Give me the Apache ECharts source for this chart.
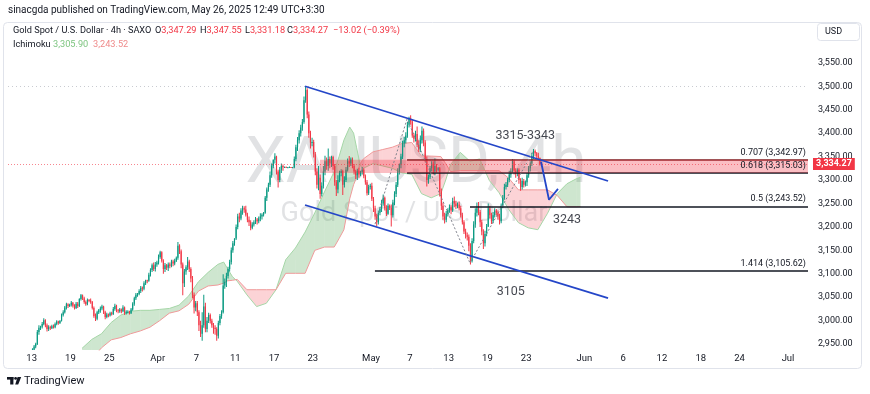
<!DOCTYPE html>
<html><head><meta charset="utf-8">
<script src="https://cdn.jsdelivr.net/npm/echarts@6/dist/echarts.min.js"></script>
<style>html,body{margin:0;padding:0;background:#fff}#c{width:870px;height:394px}</style>
</head><body><div id="c"></div>
<script>
// ---- 4h candles [open, close, low, high], 6 per trading day, starting Mar 13 ----
const candles = [
// Mar 13
[2934,2938,2931,2941],[2938,2945,2935,2948],[2945,2950,2941,2953],[2950,2976,2948,2980],[2976,2985,2970,2990],[2985,2987,2980,2989],
// Mar 14
[2987,2993,2983,2997],[2993,3001,2990,3005],[3001,2990,2986,3003],[2990,2982,2977,2994],[2982,2986,2978,2990],[2986,2984,2980,2989],
// Mar 17
[2984,2988,2982,2991],[2988,2986,2983,2992],[2986,2993,2984,2996],[2993,2998,2990,3001],[2998,2995,2991,3000],[2995,3000,2993,3001],
// Mar 18
[3000,3012,2998,3015],[3012,3018,3009,3022],[3018,3028,3015,3031],[3028,3035,3024,3038],[3035,3031,3027,3037],[3031,3034,3029,3036],
// Mar 19
[3034,3038,3030,3042],[3038,3032,3028,3040],[3032,3027,3024,3035],[3027,3036,3025,3040],[3036,3031,3027,3040],[3031,3046,3029,3048],
// Mar 20
[3046,3054,3043,3057],[3054,3048,3044,3056],[3048,3040,3036,3051],[3040,3035,3032,3043],[3035,3044,3033,3047],[3044,3043,3039,3046],
// Mar 21
[3043,3040,3036,3047],[3040,3027,3024,3042],[3027,3010,3006,3030],[3010,3004,2999,3015],[3004,3018,3001,3021],[3018,3022,3014,3025],
// Mar 24
[3022,3026,3017,3030],[3026,3030,3022,3034],[3030,3018,3014,3032],[3018,3008,3003,3021],[3008,3013,3005,3017],[3013,3011,3007,3015],
// Mar 25
[3011,3016,3009,3019],[3016,3014,3011,3019],[3014,3025,3012,3029],[3025,3032,3021,3036],[3032,3022,3018,3034],[3022,3020,3016,3025],
// Mar 26
[3020,3024,3017,3027],[3024,3020,3016,3026],[3020,3028,3018,3033],[3028,3016,3012,3030],[3016,3019,3013,3022],[3019,3019,3015,3022],
// Mar 27
[3019,3016,3013,3021],[3016,3024,3014,3027],[3024,3036,3021,3039],[3036,3048,3032,3051],[3048,3055,3044,3059],[3055,3057,3051,3059],
// Mar 28
[3057,3063,3054,3067],[3063,3070,3059,3074],[3070,3068,3062,3073],[3068,3080,3065,3084],[3080,3086,3076,3087],[3086,3085,3080,3087],
// Mar 31
[3085,3098,3083,3102],[3098,3108,3094,3112],[3108,3118,3104,3122],[3118,3110,3106,3124],[3110,3120,3105,3125],[3120,3124,3115,3128],
// Apr 1
[3124,3136,3120,3141],[3136,3146,3132,3149],[3146,3128,3124,3148],[3128,3110,3100,3131],[3110,3118,3104,3123],[3118,3113,3108,3121],
// Apr 2
[3113,3120,3106,3124],[3120,3117,3112,3124],[3117,3126,3114,3130],[3126,3122,3116,3130],[3122,3128,3118,3132],[3128,3134,3125,3137],
// Apr 3
[3134,3160,3130,3168],[3160,3148,3142,3163],[3148,3120,3112,3152],[3120,3080,3054,3124],[3080,3105,3072,3110],[3105,3114,3098,3118],
// Apr 4
[3114,3126,3108,3136],[3126,3110,3104,3130],[3110,3090,3082,3114],[3090,3055,3048,3095],[3055,3028,3015,3060],[3028,3037,3020,3042],
// Apr 7
[3037,3018,3010,3042],[3018,2990,2978,3022],[2990,2972,2965,3000],[2972,2990,2957,3018],[2990,3030,2985,3055],[3030,2982,2975,3038],
// Apr 8
[2982,3000,2975,3008],[3000,3012,2995,3017],[3012,3000,2994,3015],[3000,2990,2985,3004],[2990,2985,2972,2995],[2985,2982,2970,2990],
// Apr 9
[2982,2968,2957,2986],[2968,2995,2962,3000],[2995,3010,2990,3014],[3010,3018,3004,3022],[3018,3075,3015,3099],[3075,3083,3068,3090],
// Apr 10
[3083,3095,3072,3102],[3095,3110,3090,3115],[3110,3125,3105,3130],[3125,3150,3120,3156],[3150,3165,3145,3170],[3165,3175,3160,3176],
// Apr 11
[3175,3200,3172,3205],[3200,3222,3195,3228],[3222,3218,3210,3230],[3218,3235,3214,3240],[3235,3240,3226,3245],[3240,3237,3230,3244],
// Apr 14
[3237,3226,3222,3245],[3226,3215,3210,3230],[3215,3210,3202,3222],[3210,3198,3193,3214],[3198,3205,3195,3210],[3205,3210,3201,3214],
// Apr 15
[3210,3216,3206,3221],[3216,3212,3205,3219],[3212,3218,3208,3222],[3218,3222,3212,3229],[3222,3226,3216,3229],[3226,3230,3222,3232],
// Apr 16
[3230,3262,3228,3266],[3262,3280,3255,3284],[3280,3290,3275,3294],[3290,3310,3285,3318],[3310,3330,3305,3335],[3330,3343,3325,3344],
// Apr 17
[3343,3350,3335,3357],[3350,3318,3312,3352],[3318,3300,3284,3322],[3300,3322,3295,3328],[3322,3330,3315,3335],[3330,3327,3320,3333],
// Apr 18
[3327,3328,3326,3329],[3328,3327,3326,3329],[3327,3327,3326,3328],[3327,3328,3326,3329],[3328,3327,3326,3328],[3327,3327,3326,3328],
// Apr 21
[3327,3345,3325,3350],[3345,3370,3340,3375],[3370,3385,3362,3392],[3385,3400,3378,3406],[3400,3412,3393,3418],[3412,3424,3405,3430],
// Apr 22
[3424,3470,3420,3478],[3470,3492,3465,3500],[3492,3440,3432,3496],[3440,3400,3390,3446],[3400,3380,3367,3405],[3380,3381,3372,3390],
// Apr 23
[3381,3355,3348,3386],[3355,3318,3310,3360],[3318,3290,3282,3325],[3290,3305,3278,3330],[3305,3270,3260,3312],[3270,3288,3265,3295],
// Apr 24
[3288,3318,3282,3330],[3318,3340,3310,3352],[3340,3330,3322,3348],[3330,3345,3320,3367],[3345,3335,3325,3350],[3335,3349,3328,3352],
// Apr 25
[3349,3330,3322,3352],[3330,3295,3288,3334],[3295,3280,3266,3300],[3280,3300,3272,3310],[3300,3315,3295,3320],[3315,3319,3308,3323],
// Apr 28
[3319,3290,3268,3322],[3290,3300,3284,3308],[3300,3322,3296,3328],[3322,3340,3318,3346],[3340,3335,3328,3351],[3335,3344,3330,3348],
// Apr 29
[3344,3330,3325,3348],[3330,3318,3312,3334],[3318,3310,3302,3322],[3310,3320,3300,3324],[3320,3312,3305,3326],[3312,3317,3308,3320],
// Apr 30
[3317,3322,3312,3328],[3322,3308,3304,3325],[3308,3295,3290,3312],[3295,3272,3267,3300],[3272,3285,3268,3290],[3285,3288,3280,3292],
// May 1
[3288,3260,3255,3294],[3260,3240,3232,3264],[3240,3222,3215,3245],[3222,3210,3202,3228],[3210,3230,3205,3235],[3230,3238,3225,3242],
// May 2
[3238,3250,3232,3258],[3250,3262,3245,3269],[3262,3240,3235,3265],[3240,3228,3223,3246],[3228,3245,3226,3250],[3245,3241,3236,3248],
// May 5
[3241,3225,3201,3248],[3225,3252,3220,3258],[3252,3270,3246,3276],[3270,3290,3264,3296],[3290,3318,3285,3325],[3318,3333,3312,3335],
// May 6
[3333,3350,3325,3356],[3350,3378,3345,3384],[3378,3385,3370,3392],[3385,3395,3378,3402],[3395,3418,3390,3424],[3418,3431,3412,3435],
// May 7
[3431,3425,3418,3438],[3425,3395,3390,3430],[3395,3388,3380,3400],[3388,3398,3382,3405],[3398,3375,3370,3414],[3375,3365,3360,3385],
// May 8
[3365,3385,3360,3395],[3385,3405,3378,3414],[3405,3380,3372,3410],[3380,3345,3338,3385],[3345,3300,3286,3350],[3300,3306,3292,3312],
// May 9
[3306,3325,3302,3330],[3325,3335,3318,3340],[3335,3318,3312,3340],[3318,3330,3310,3346],[3330,3322,3316,3334],[3322,3325,3318,3328],
// May 12
[3325,3275,3265,3328],[3275,3245,3236,3282],[3245,3222,3215,3252],[3222,3215,3207,3230],[3215,3228,3210,3234],[3228,3236,3222,3240],
// May 13
[3236,3242,3230,3248],[3242,3235,3227,3246],[3235,3255,3232,3262],[3255,3250,3242,3265],[3250,3244,3238,3256],[3244,3248,3240,3252],
// May 14
[3248,3240,3235,3254],[3240,3225,3220,3245],[3225,3210,3205,3230],[3210,3190,3185,3214],[3190,3182,3175,3196],[3182,3179,3171,3188],
// May 15
[3179,3160,3148,3184],[3160,3128,3120,3165],[3128,3170,3124,3176],[3170,3205,3165,3212],[3205,3230,3198,3240],[3230,3240,3222,3252],
// May 16
[3240,3232,3225,3253],[3232,3210,3200,3236],[3210,3190,3182,3215],[3190,3165,3153,3195],[3165,3185,3158,3192],[3185,3201,3180,3206],
// May 19
[3201,3240,3200,3250],[3240,3225,3218,3245],[3225,3212,3206,3230],[3212,3225,3208,3232],[3225,3235,3220,3240],[3235,3230,3225,3238],
// May 20
[3230,3222,3215,3235],[3222,3212,3205,3228],[3212,3245,3208,3250],[3245,3262,3240,3268],[3262,3285,3258,3292],[3285,3290,3280,3296],
// May 21
[3290,3300,3285,3305],[3300,3312,3295,3320],[3312,3320,3305,3325],[3320,3340,3315,3345],[3340,3320,3312,3344],[3320,3314,3305,3325],
// May 22
[3314,3322,3308,3325],[3322,3300,3292,3325],[3300,3285,3277,3304],[3285,3298,3280,3305],[3298,3290,3284,3302],[3290,3295,3286,3299],
// May 23
[3295,3310,3287,3315],[3310,3325,3305,3330],[3325,3335,3318,3340],[3335,3352,3330,3358],[3352,3362,3345,3366],[3362,3357,3350,3365],
// May 26
[3357,3352,3346,3360],[3352,3347.29,3342,3358],[3347.29,3334.27,3331.18,3347.55]
];

// ---- Ichimoku cloud (trading-day position, leading span A, leading span B) ----
const cloudX = [5.2,6.2,7.2,8.2,9.2,10.2,11.2,12.2,13.2,14.2,15.2,16.2,17.2,18.2,19.2,19.8,20.2,20.7,21.2,22.2,23.2,24.2,25.2,26.2,27.2,28.2,29.2,30.2,31.2,31.7,32.2,32.8,33.2,33.5,33.9,34.2,35.2,36.2,37.2,38.2,39.2,40.2,41.2,42.2,42.7,43.2,44.2,45.2,46.2,47.2,48.2,49.2,50.2,51.2,52.2,53.2,54.2,55.2,56.2,56.6];
const spanA = [2941,2960,2972,2996,3012,3020,3022,3022,3024,3026,3033,3053,3083,3103,3120,3125,3111,3094,3084,3055,3030,3037,3066,3130,3155,3189,3230,3275,3318,3350,3385,3413,3400,3370,3330,3325,3335,3330,3325,3315,3312,3271,3262,3271,3300,3333,3359,3340,3345,3299,3273,3237,3209,3198,3194,3229,3271,3292,3303,3305.9];
const spanB = [2911,2918,2942,2959,2964,2972,2978,2986,3000,3016,3021,3035,3063,3074,3076,3080,3085,3086,3088,3066,3066,3066,3066,3101,3101,3101,3150,3157,3157,3175,3194,3260,3290,3305,3335,3345,3360,3365,3370,3378,3380,3351,3351,3350,3335,3318,3320,3320,3320,3320,3320,3304,3279,3279,3279,3279,3267,3243,3243,3243.52];

// ---- time-axis ticks (trading-day position) and labels ----
const xTickPos = [0,4,8,13,17,21,25,29,35,39,43,47,51,57,61,65,69,73,78];
const xTickLabels = ['13','19','25','Apr','7','11','17','23','May','7','13','19','23','Jun','6','12','18','24','Jul'];
const yTicks = [2950,3000,3050,3100,3150,3200,3250,3300,3350,3400,3450,3500,3550];

// ---- levels / annotations ----
const lastPrice = 3334.27;
const athLevel = 3500;
const fibNames = ['0.707','0.618','0.5','1.414'];
const fibValues = [3342.97,3315.03,3243.52,3105.62];
const zoneRange = [3315.03,3342.97];
const upperTrend = [[28.19,3500],[59.44,3297.9]];
const lowerTrend = [[28.19,3246.7],[59.44,3048]];
const zigzag = [[35.41,3206],[38.71,3430],[45.2,3123],[51.7,3360]];
const arrowPath = [[52.53,3339],[53.35,3258],[54.28,3281]];
const noteTexts = ['3315-3343','3243','3105'];
const notePoints = [[50.9,3394],[55.2,3215],[49.4,3061]];
const legendOHLC = [['O','3,347.29'],['H','3,347.55'],['L','3,331.18'],['C','3,334.27']];
const legendChange = '−13.02 (−0.39%)';
const ichimokuValues = ['3,305.90','3,243.52'];

// ---------------- layout ----------------
const X_MIN = -2.44, X_MAX = 80.06;
const Y_MIN = 2937.4, Y_MAX = 3632.8;
const fibStart = [38.71, 38.71, 45.2, 35.4];
const fibColor = ['#7a1f22','#131722','#131722','#131722'];
const zoneStart = 29.73;
const UP = '#089981', DOWN = '#F23645';
const FONT = 'Roboto, "Liberation Sans", Arial, sans-serif';
const LF = '9.2px ' + FONT;
const legendX = [155, 200, 245, 287];

const candleData = candles.map((c,i)=>[Math.floor(i/6) + ((i%6)+0.5)/6, c[0], c[1], c[2], c[3]]);
const cloudSegs = [];
for (let i=0;i<cloudX.length-1;i++) cloudSegs.push([cloudX[i],spanA[i],spanB[i],cloudX[i+1],spanA[i+1],spanB[i+1]]);

const fmtPrice = v => v.toLocaleString('en-US',{minimumFractionDigits:2,maximumFractionDigits:2});

function renderCandle(params, api){
  const x=api.value(0), o=api.value(1), c=api.value(2), l=api.value(3), h=api.value(4);
  const pO=api.coord([x,o]), pC=api.coord([x,c]), pL=api.coord([x,l]), pH=api.coord([x,h]);
  const w = Math.max(api.size([1/6,0])[0]*0.72, 1);
  const col = c>=o ? UP : DOWN;
  const top = Math.min(pO[1],pC[1]);
  return {type:'group', children:[
    {type:'rect', shape:{x:pH[0]-0.5, y:pH[1], width:1, height:Math.max(pL[1]-pH[1],1)}, style:{fill:col}},
    {type:'rect', shape:{x:pO[0]-w/2, y:top, width:w, height:Math.max(Math.abs(pO[1]-pC[1]),1)}, style:{fill:col}}
  ]};
}
const GREEN_FILL='rgba(67,160,71,0.26)', RED_FILL='rgba(242,54,69,0.22)';
function renderCloud(params, api){
  const x0=api.value(0), a0=api.value(1), b0=api.value(2), x1=api.value(3), a1=api.value(4), b1=api.value(5);
  const d0=a0-b0, d1=a1-b1, P=(x,y)=>api.coord([x,y]);
  if (d0*d1>=0){
    return {type:'polygon', shape:{points:[P(x0,a0),P(x1,a1),P(x1,b1),P(x0,b0)]}, style:{fill:(d0+d1)>=0?GREEN_FILL:RED_FILL}};
  }
  const t=d0/(d0-d1), xc=x0+t*(x1-x0), yc=a0+t*(a1-a0);
  return {type:'group', children:[
    {type:'polygon', shape:{points:[P(x0,a0),P(xc,yc),P(x0,b0)]}, style:{fill:d0>0?GREEN_FILL:RED_FILL}},
    {type:'polygon', shape:{points:[P(xc,yc),P(x1,a1),P(x1,b1)]}, style:{fill:d1>0?GREEN_FILL:RED_FILL}}
  ]};
}
function renderZone(params, api){
  const p0=api.coord([api.value(0), api.value(3)]), p1=api.coord([api.value(1), api.value(2)]);
  return {type:'rect', shape:{x:p0[0], y:p0[1], width:p1[0]-p0[0], height:p1[1]-p0[1]}, style:{fill:'rgba(242,54,69,0.32)'}};
}

const legendGraphics = [];
legendOHLC.forEach((kv,i)=>{
  legendGraphics.push({type:'text', x:legendX[i], y:31, silent:true, style:{text:'{t|'+kv[0]+'}{r|'+kv[1]+'}', verticalAlign:'middle', font:LF,
    rich:{t:{fill:'#131722', font:LF}, r:{fill:DOWN, font:LF}}}});
});

const chart = echarts.init(document.getElementById('c'), null, {renderer:'canvas'});
chart.setOption({
  animation:false,
  backgroundColor:'#ffffff',
  textStyle:{fontFamily:FONT},
  grid:{left:8, right:62, top:24, bottom:44},
  xAxis:{type:'value', min:X_MIN, max:X_MAX,
    axisLine:{show:false}, axisTick:{show:false}, splitLine:{show:false},
    axisLabel:{customValues:xTickPos, formatter:v=>{const i=xTickPos.indexOf(v);return i>=0?xTickLabels[i]:'';}, color:'#131722', fontSize:9.5, margin:4, fontFamily:FONT}},
  yAxis:{type:'value', position:'right', min:Y_MIN, max:Y_MAX, scale:true,
    axisLine:{show:false}, axisTick:{show:false}, splitLine:{show:false},
    axisLabel:{customValues:yTicks, formatter:v=>fmtPrice(v), color:'#131722', fontSize:9, margin:10, fontFamily:FONT}},
  series:[
    {type:'custom', name:'cloud', renderItem:renderCloud, data:cloudSegs, encode:{x:[0,3], y:[1,2,4,5]}, z:1, silent:true, clip:true},
    {type:'line', name:'spanA', data:cloudX.map((x,i)=>[x,spanA[i]]), symbol:'none', lineStyle:{color:'#A5D6A7', width:1}, z:1, silent:true},
    {type:'line', name:'spanB', data:cloudX.map((x,i)=>[x,spanB[i]]), symbol:'none', lineStyle:{color:'#EF9A9A', width:1}, z:1, silent:true},
    {type:'custom', name:'XAUUSD', renderItem:renderCandle, data:candleData, encode:{x:0, y:[1,2,3,4]}, z:3, clip:true},
    {type:'custom', name:'zone', renderItem:renderZone, data:[[zoneStart, X_MAX, zoneRange[0], zoneRange[1]]], encode:{x:[0,1], y:[2,3]}, z:5, silent:true},
    {type:'line', name:'levels', data:[], symbol:'none', z:6, silent:true,
      markLine:{silent:true, symbol:['none','none'], animation:false,
        data:[
          {yAxis:athLevel, lineStyle:{color:'#c9cbd1', width:1, type:[1,3]}, label:{show:false}},
          {yAxis:lastPrice, lineStyle:{color:'rgba(242,54,69,0.6)', width:1, type:[1,2]},
            label:{show:true, position:'end', distance:5, formatter:fmtPrice(lastPrice), color:'#fff', backgroundColor:DOWN, padding:[2,3,1,3], fontSize:9, fontWeight:'bold', fontFamily:FONT}},
          ...fibValues.map((v,i)=>[
            {coord:[fibStart[i], v], lineStyle:{color:fibColor[i], width:1.6, type:'solid'},
              label:{show:true, position:'insideEndTop', distance:[2,3], formatter:fibNames[i]+' ('+fmtPrice(v)+')', color:'#131722', fontSize:9, fontFamily:FONT}},
            {coord:[X_MAX, v]}
          ])
        ]}},
    {type:'line', name:'upperTrend', data:upperTrend, symbol:'none', lineStyle:{color:'#2446c8', width:1.8}, z:7, silent:true},
    {type:'line', name:'lowerTrend', data:lowerTrend, symbol:'none', lineStyle:{color:'#2446c8', width:1.8}, z:7, silent:true},
    {type:'line', name:'zigzag', data:zigzag, symbol:'none', lineStyle:{color:'#7f828c', width:1, type:[2,2]}, z:7, silent:true},
    {type:'line', name:'arrow', data:arrowPath, symbol:'none', lineStyle:{color:'#2446c8', width:1.8}, z:7, silent:true},
    {type:'scatter', name:'notes', data:notePoints.map((p,i)=>({value:p, name:noteTexts[i]})), symbolSize:1, itemStyle:{color:'transparent'}, z:8, silent:true,
      label:{show:true, position:'inside', formatter:p=>p.name, color:'#131722', fontSize:12.5, fontFamily:FONT}}
  ],
  graphic:[
    {type:'text', x:416, y:166, z:-10, silent:true, style:{text:'XAUUSD, 4h', font:'64px '+FONT, fill:'rgba(120,123,134,0.22)', align:'center', verticalAlign:'middle'}},
    {type:'text', x:414, y:214, z:-10, silent:true, style:{text:'Gold Spot / U.S. Dollar', font:'27px '+FONT, fill:'rgba(120,123,134,0.22)', align:'center', verticalAlign:'middle'}},
    {type:'rect', x:3.5, y:22.5, z:-20, silent:true, shape:{width:858, height:346, r:4}, style:{fill:'none', stroke:'#e0e3eb', lineWidth:1}},
    {type:'rect', x:817.5, y:23.5, silent:true, shape:{width:42, height:17, r:3}, style:{fill:'#fff', stroke:'#e0e3eb', lineWidth:1}},
    {type:'text', x:825, y:32, silent:true, style:{text:'USD', font:'9px '+FONT, fill:'#131722', verticalAlign:'middle'}},
    {type:'text', x:8, y:10, silent:true, style:{text:'sinacgda published on TradingView.com, May 26, 2025 12:49 UTC+3:30', font:'10px '+FONT, fill:'#131722', verticalAlign:'middle'}},
    {type:'text', x:13, y:31, silent:true, style:{text:'Gold Spot / U.S. Dollar · 4h · SAXO', font:LF, fill:'#131722', verticalAlign:'middle'}},
    ...legendGraphics,
    {type:'text', x:333, y:31, silent:true, style:{text:legendChange, font:LF, fill:DOWN, verticalAlign:'middle'}},
    {type:'text', x:13, y:45, silent:true, style:{text:'Ichimoku', font:LF, fill:'#131722', verticalAlign:'middle'}},
    {type:'text', x:53, y:45, silent:true, style:{text:ichimokuValues[0], font:LF, fill:'#7cc47f', verticalAlign:'middle'}},
    {type:'text', x:93, y:45, silent:true, style:{text:ichimokuValues[1], font:LF, fill:'#ef8a8a', verticalAlign:'middle'}},
    // TradingView logo
    {type:'rect', x:7, y:377, silent:true, shape:{width:6.5, height:2.6}, style:{fill:'#131722'}},
    {type:'rect', x:10.2, y:377, silent:true, shape:{width:3.2, height:7.5}, style:{fill:'#131722'}},
    {type:'circle', x:15.6, y:378.4, silent:true, shape:{r:1.4}, style:{fill:'#131722'}},
    {type:'polygon', silent:true, shape:{points:[[17.6,377],[21.2,377],[18.2,384.5],[15.2,384.5]]}, style:{fill:'#131722'}},
    {type:'text', x:24, y:381, silent:true, style:{text:'TradingView', font:'11px '+FONT, fill:'#131722', verticalAlign:'middle'}}
  ]
});
</script>
</body></html>
